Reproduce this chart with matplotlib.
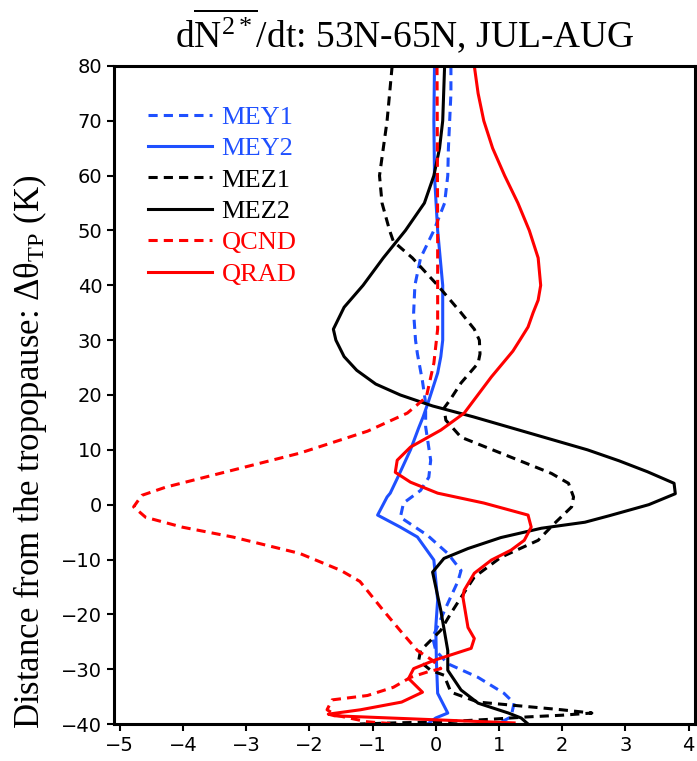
import numpy as np
import matplotlib
matplotlib.use("Agg")
import matplotlib.pyplot as plt

plt.rcParams['mathtext.fontset'] = 'custom'
plt.rcParams['mathtext.rm'] = 'Liberation Serif'
plt.rcParams['mathtext.it'] = 'Liberation Serif:italic'

# profiles: (theta distance from tropopause [K], tendency)
mey1_y = [80, 75, 70, 65, 60, 55, 50, 45, 40, 35, 30, 27.5, 22.5, 18.5, 14.2, 8.1, 5, 2.6, 0.3,
          -2.3, -5.6, -8.9, -12, -14, -18, -24.2, -26.6, -29, -31.5, -34.4, -36.2, -38.7, -40]
mey1_x = [0.24, 0.24, 0.22, 0.2, 0.19, 0.14, -0.03, -0.24, -0.33, -0.35, -0.32, -0.29, -0.21, -0.16,
          -0.16, -0.08, -0.11, -0.24, -0.51, -0.56, -0.13, 0.19, 0.4, 0.35, 0.19, -0.05, 0.0, 0.19,
          0.67, 1.08, 1.24, 1.19, 0.98]

mey2_y = [80, 70, 60, 50, 40, 30, 27, 24, 19, 16, 14, 10, 5, 2.1, 1.4, -1.9, -4.1, -5.9, -10.1,
          -17.4, -22.4, -28.4, -34.4, -38, -38.9, -40]
mey2_x = [-0.02, -0.03, -0.02, 0.03, 0.11, 0.11, 0.08, 0.03, -0.11, -0.2, -0.27, -0.4, -0.6, -0.72,
          -0.77, -0.92, -0.56, -0.29, -0.03, 0.03, 0.0, 0.01, 0.03, 0.19, 0.0, -0.13]

mez1_y = [80, 70, 60, 55, 50, 48, 45, 40, 35, 32, 30, 27.5, 25.8, 22.2, 19, 17.6, 15.4, 12.3, 9.4,
          5.7, 3.9, 1.4, -0.4, -3.4, -6.5, -9.6, -13.2, -16.9, -19.8, -22.9, -26.6, -28.4, -30.2,
          -31.1, -34.2, -36, -36.6, -37.4, -38, -38.4, -38.7, -39.1, -39.6, -39.8, -40]
mez1_x = [-0.69, -0.77, -0.89, -0.85, -0.73, -0.67, -0.37, 0.03, 0.4, 0.61, 0.69, 0.7, 0.67, 0.4,
          0.22, 0.13, 0.16, 0.4, 1.03, 1.83, 2.1, 2.18, 2.15, 1.88, 1.62, 1.03, 0.61, 0.4, 0.24,
          0.08, -0.24, -0.27, -0.08, 0.13, 0.24, 0.67, 1.24, 1.99, 2.47, 1.99, 1.46, 0.92, 0.13,
          -0.67, -1.2]

mez2_y = [80, 70, 65, 60, 55, 50, 45, 40, 36, 32, 30, 27, 24.5, 22, 20, 18, 16, 14, 12, 10, 8, 6,
          4.5, 3.9, 2, 0, -2, -3.2, -4.3, -6, -8, -9.8, -12.3, -15, -19.3, -26.6, -30.2, -33.8,
          -36.2, -38, -38.9, -40]
mez2_x = [0.14, 0.11, 0.06, -0.03, -0.18, -0.48, -0.83, -1.15, -1.45, -1.62, -1.58, -1.45, -1.25,
          -0.95, -0.56, -0.05, 0.6, 1.2, 1.8, 2.4, 2.9, 3.35, 3.65, 3.77, 3.79, 3.37, 2.75, 2.36,
          1.67, 1.03, 0.51, 0.13, -0.05, 0.0, 0.08, 0.19, 0.19, 0.4, 0.67, 1.15, 1.35, 1.46]

qcnd_y = [80, 50, 32, 25.8, 19.6, 16.7, 13.4, 9.4, 6.3, 3.2, 1.7, -0.4, -2.3, -4.1, -5.9, -8.9,
          -12, -14, -17, -19, -23, -26.6, -28.4, -29.9, -30.5, -31.5, -33.3, -34.8, -35.6, -37.4,
          -38.4, -39.6, -40]
qcnd_x = [0.02, 0.03, 0.03, -0.03, -0.15, -0.45, -1.08, -2.15, -3.21, -4.27, -4.65, -4.78, -4.59,
          -4.01, -3.21, -2.15, -1.5, -1.2, -0.99, -0.85, -0.56, -0.29, -0.05, 0.08, -0.13, -0.4,
          -0.67, -1.08, -1.64, -1.72, -1.58, -1.08, -0.61]

qrad_y = [80, 75, 70, 65, 60, 55, 50, 45, 40, 37.3, 35, 32.4, 30, 28, 23.3, 16.7, 13.6, 10.5, 8.1,
          5.9, 4.1, 2.1, 0.3, -1.9, -4.1, -6.5, -8.3, -10.1, -12.5, -15.6, -16.9, -22.4, -24.4,
          -26.2, -28.4, -29.9, -31.7, -34.2, -36, -37.4, -38.2, -38.5, -39.8]
qrad_x = [0.61, 0.67, 0.76, 0.9, 1.09, 1.3, 1.48, 1.62, 1.66, 1.62, 1.54, 1.46, 1.33, 1.22, 0.88,
          0.45, 0.08, -0.4, -0.61, -0.64, -0.4, 0.03, 0.76, 1.46, 1.51, 1.4, 1.19, 0.88, 0.61, 0.45,
          0.43, 0.51, 0.61, 0.56, -0.03, -0.35, -0.43, -0.21, -0.54, -1.19, -1.7, -1.6, 1.24]

blue = '#1f50ff'
red = '#ff0000'
lw = 2.2
dash = (3, 2)

fig, ax = plt.subplots(figsize=(6.97, 7.61), dpi=100)
fig.subplots_adjust(left=0.1636, right=0.997, top=0.9133, bottom=0.0486)

ax.plot(mey1_x, mey1_y, color=blue, lw=lw, dashes=dash, label='MEY1')
ax.plot(mey2_x, mey2_y, color=blue, lw=lw, label='MEY2')
ax.plot(mez1_x, mez1_y, color='black', lw=lw, dashes=dash, label='MEZ1')
ax.plot(mez2_x, mez2_y, color='black', lw=lw, label='MEZ2')
ax.plot(qcnd_x, qcnd_y, color=red, lw=lw, dashes=dash, label='QCND')
ax.plot(qrad_x, qrad_y, color=red, lw=lw, label='QRAD')

ax.set_xlim(-5.09, 4.1)
ax.set_ylim(-40, 80)
ax.set_xticks(np.arange(-5, 5, 1))
ax.set_yticks(np.arange(-40, 81, 10))
ax.tick_params(direction='out', length=5, width=1.5, labelsize=14, top=False, right=False)
for s in ax.spines.values():
    s.set_linewidth(2.2)

ax.set_title(r'd$\overline{\mathrm{N}^{2*}}$/dt: 53N-65N, JUL-AUG',
             family='Liberation Serif', fontsize=27, pad=13)
fig.text(30 / 697, 1 - 452 / 761,
         r'Distance from the tropopause: Δθ$_{\mathrm{TP}}$ (K)',
         family='Liberation Serif', fontsize=25, rotation=90, ha='center', va='center')

leg = ax.legend(loc='upper left', bbox_to_anchor=(0.058, 0.94), frameon=False,
                borderpad=0, borderaxespad=0, handlelength=2.42, handletextpad=0.38,
                labelspacing=0.3, labelcolor='linecolor',
                prop={'family': 'Liberation Serif', 'size': 19})

fig.savefig('out.png', dpi=100)
